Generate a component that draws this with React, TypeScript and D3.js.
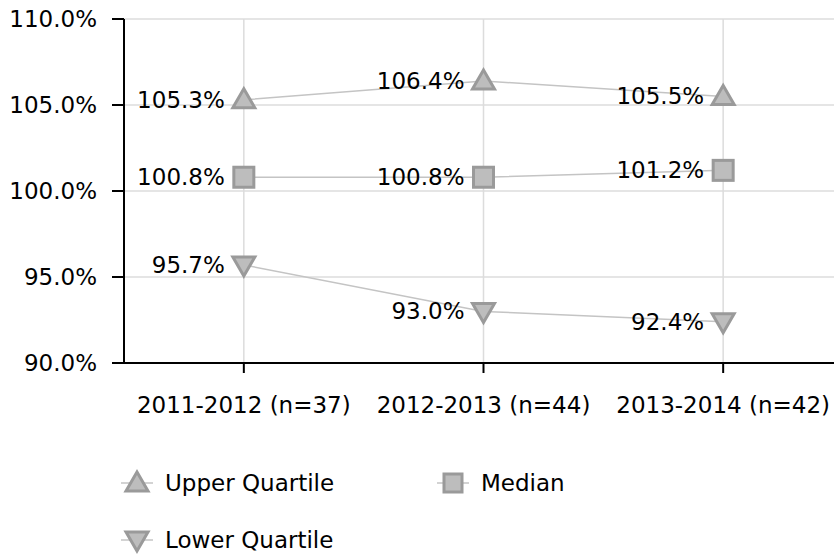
import React from "react";
import * as d3 from "d3";

const categories = ["2011-2012 (n=37)", "2012-2013 (n=44)", "2013-2014 (n=42)"];
const upperQuartile = [105.3, 106.4, 105.5];
const median = [100.8, 100.8, 101.2];
const lowerQuartile = [95.7, 93.0, 92.4];
const yTicks = [90, 95, 100, 105, 110];

const W = 834, H = 557;
const left = 124, top = 19, bottom = 363, right = 843;
const FONT = "'DejaVu Sans', Verdana, sans-serif";
const FS = 23;
const fill = "#bdbdbd", stroke = "#9a9a9a", lineColor = "#c4c4c4";

function Marker({ kind, x, y, sq = 20 }: { kind: string; x: number; y: number; sq?: number }) {
  if (kind === "square") {
    return <rect x={x - sq / 2} y={y - sq / 2} width={sq} height={sq} fill={fill} stroke={stroke} strokeWidth={3} />;
  }
  const s = 10;
  const pts = kind === "up"
    ? [[x, y - s - 1], [x + s + 1, y + s - 2], [x - s - 1, y + s - 2]]
    : [[x, y + s + 1], [x + s + 1, y - s + 2], [x - s - 1, y - s + 2]];
  return <polygon points={pts.map(p => p.join(",")).join(" ")} fill={fill} stroke={stroke} strokeWidth={3} strokeLinejoin="miter" />;
}

export default function App() {
  const x = d3.scalePoint<string>().domain(categories).range([left, right]).padding(0.5);
  const y = d3.scaleLinear().domain([90, 110]).range([bottom, top]);
  const line = d3.line<number>().x((_, i) => x(categories[i])!).y(d => y(d));
  const series = [
    { name: "Upper Quartile", data: upperQuartile, kind: "up" },
    { name: "Median", data: median, kind: "square" },
    { name: "Lower Quartile", data: lowerQuartile, kind: "down" },
  ];
  const legend = [
    { name: "Upper Quartile", kind: "up", lx: 137, ly: 483 },
    { name: "Median", kind: "square", lx: 453, ly: 483 },
    { name: "Lower Quartile", kind: "down", lx: 137, ly: 540 },
  ];
  return (
    <svg width={W} height={H} style={{ position: "absolute", left: 0, top: 0, background: "#fff" }} fontFamily={FONT}>
      {yTicks.map(t => (
        <line key={"gy" + t} x1={left} x2={W} y1={y(t)} y2={y(t)} stroke="#dcdcdc" strokeWidth={1.5} />
      ))}
      {categories.map(c => (
        <line key={"gx" + c} x1={x(c)} x2={x(c)} y1={top} y2={bottom} stroke="#dcdcdc" strokeWidth={1.5} />
      ))}
      <line x1={left} x2={left} y1={top} y2={bottom} stroke="#000" strokeWidth={2} />
      <line x1={112} x2={W} y1={bottom} y2={bottom} stroke="#000" strokeWidth={2} />
      {yTicks.map(t => (
        <g key={"yt" + t}>
          <line x1={112} x2={left} y1={y(t)} y2={y(t)} stroke="#000" strokeWidth={2} />
          <text x={97} y={y(t)} dy="0.35em" textAnchor="end" fontSize={FS} fill="#000">{t.toFixed(1)}%</text>
        </g>
      ))}
      {categories.map(c => (
        <g key={"xt" + c}>
          <line x1={x(c)} x2={x(c)} y1={bottom} y2={bottom + 10} stroke="#000" strokeWidth={2} />
          <text x={x(c)} y={405} dy="0.35em" textAnchor="middle" fontSize={FS} fill="#000">{c}</text>
        </g>
      ))}
      {series.map(s => (
        <g key={s.name}>
          <path d={line(s.data)!} fill="none" stroke={lineColor} strokeWidth={1.5} />
          {s.data.map((v, i) => (
            <g key={i}>
              <Marker kind={s.kind} x={x(categories[i])!} y={y(v)} />
              <text x={x(categories[i])! - 19} y={y(v)} dy="0.35em" textAnchor="end" fontSize={FS} fill="#000">{v.toFixed(1)}%</text>
            </g>
          ))}
        </g>
      ))}
      {legend.map(l => (
        <g key={"lg" + l.name}>
          <line x1={l.lx - 16} x2={l.lx + 16} y1={l.ly} y2={l.ly} stroke={lineColor} strokeWidth={1.5} />
          <Marker kind={l.kind} x={l.lx} y={l.ly} sq={18} />
          <text x={l.lx + 28} y={l.ly} dy="0.35em" fontSize={FS} fill="#000">{l.name}</text>
        </g>
      ))}
    </svg>
  );
}
